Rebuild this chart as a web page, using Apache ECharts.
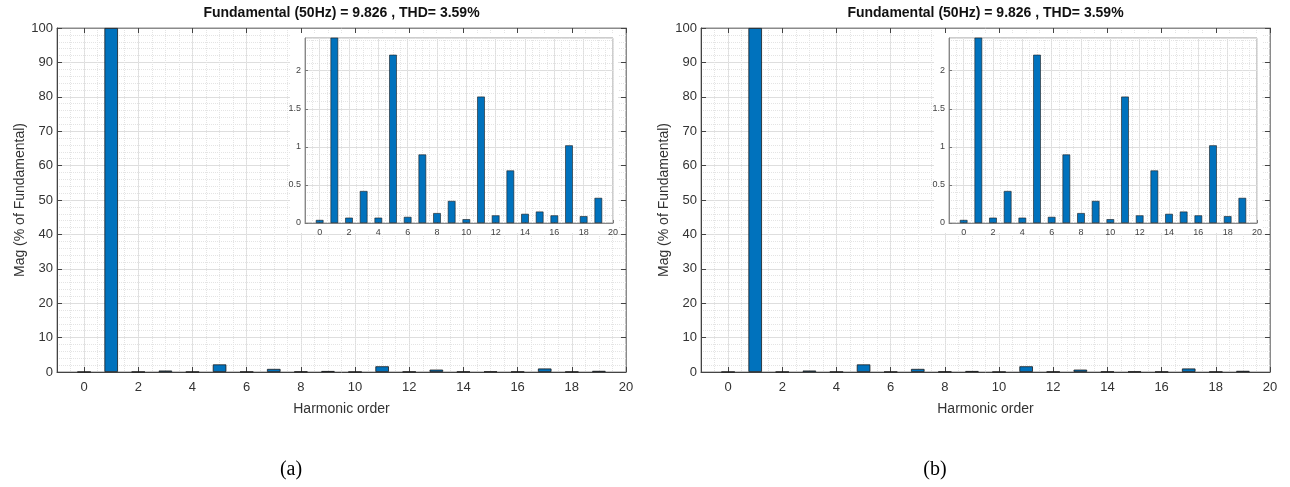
<!DOCTYPE html>
<html>
<head>
<meta charset="utf-8">
<script src="https://cdn.jsdelivr.net/npm/echarts@6/dist/echarts.min.js"></script>
<style>
  html, body { margin: 0; padding: 0; background: #fff; }
  #chart { width: 1290px; height: 487px; }
</style>
</head>
<body>
<div id="chart"></div>
<script>
// x categories (-1 .. 20 so that 0 and 20 sit where MATLAB put them)
var categories = ['-1', '0', '1', '2', '3', '4', '5', '6', '7', '8', '9', '10',
                  '11', '12', '13', '14', '15', '16', '17', '18', '19', '20'];
var harmonicOrder = [0, 1, 2, 3, 4, 5, 6, 7, 8, 9, 10, 11, 12, 13, 14, 15, 16, 17, 18, 19];
// magnitude in % of fundamental, panel (a) and (b)
var magA = [0.04, 100, 0.07, 0.42, 0.07, 2.21, 0.08, 0.90, 0.13, 0.29, 0.05,
            1.66, 0.10, 0.69, 0.12, 0.15, 0.10, 1.02, 0.09, 0.33];
var magB = [0.04, 100, 0.07, 0.42, 0.07, 2.21, 0.08, 0.90, 0.13, 0.29, 0.05,
            1.66, 0.10, 0.69, 0.12, 0.15, 0.10, 1.02, 0.09, 0.33];
var titleText = 'Fundamental (50Hz) = 9.826 , THD= 3.59%';
var panelLabels = ['(a)', '(b)'];

var FONT = 'Liberation Sans, Arial, sans-serif';
var BAR = '#0072BD';
var MAJOR = '#dedede';
var MINOR = '#e4e4e4';

var chart = echarts.init(document.getElementById('chart'));

var grids = [], xAxes = [], yAxes = [], series = [], graphics = [];

function isEven(idx, val) {
  var v = Number(val);
  return v >= 0 && v % 2 === 0;
}

function addPanel(mags, left, label) {
  // ---- main axes ----
  var gi = grids.length;
  grids.push({ left: left, top: 28, width: 569, height: 344, show: true,
    borderColor: '#8a8a8a', borderWidth: 1, backgroundColor: 'transparent' });

  var xMain = xAxes.length;
  xAxes.push({
    gridIndex: gi, type: 'category', data: categories, boundaryGap: false, position: 'bottom',
    name: 'Harmonic order', nameLocation: 'middle', nameGap: 30,
    nameTextStyle: { fontFamily: FONT, fontSize: 14, color: '#333' },
    axisLine: { onZero: false, lineStyle: { color: '#444' } },
    axisTick: { inside: true, length: 5, interval: isEven, lineStyle: { color: '#444' } },
    axisLabel: { interval: isEven, fontFamily: FONT, fontSize: 13, color: '#333', margin: 9 },
    splitLine: { show: true, interval: isEven, lineStyle: { color: MAJOR } }
  });
  xAxes.push({
    gridIndex: gi, type: 'value', min: -1, max: 20, interval: 0.5, position: 'bottom',
    axisLine: { show: false, onZero: false }, axisTick: { show: false }, axisLabel: { show: false },
    splitLine: { show: true, lineStyle: { color: MINOR, type: 'dotted' } }
  });
  xAxes.push({
    gridIndex: gi, type: 'category', data: categories, boundaryGap: false, position: 'top',
    axisLine: { onZero: false, lineStyle: { color: '#8a8a8a' } },
    axisTick: { inside: true, length: 5, interval: isEven, lineStyle: { color: '#444' } },
    axisLabel: { show: false }, splitLine: { show: false }
  });

  var yMain = yAxes.length;
  yAxes.push({
    gridIndex: gi, type: 'value', min: 0, max: 100, interval: 10, position: 'left',
    name: 'Mag (% of Fundamental)', nameLocation: 'middle', nameGap: 28,
    nameTextStyle: { fontFamily: FONT, fontSize: 14, color: '#333' },
    axisLine: { show: true, onZero: false, lineStyle: { color: '#444' } },
    axisTick: { show: true, inside: true, length: 5, lineStyle: { color: '#444' } },
    axisLabel: { fontFamily: FONT, fontSize: 13, color: '#333', margin: 4 },
    splitLine: { show: true, lineStyle: { color: MAJOR } },
    minorTick: { show: false, splitNumber: 5 },
    minorSplitLine: { show: true, lineStyle: { color: MINOR, type: 'dotted' } }
  });
  yAxes.push({
    gridIndex: gi, type: 'value', min: 0, max: 100, interval: 10, position: 'right',
    axisLine: { show: true, onZero: false, lineStyle: { color: '#8a8a8a' } },
    axisTick: { show: true, inside: true, length: 5, lineStyle: { color: '#444' } },
    axisLabel: { show: false }, splitLine: { show: false }
  });

  series.push({
    type: 'bar', xAxisIndex: xMain, yAxisIndex: yMain, barWidth: '50%',
    itemStyle: { color: BAR, borderColor: '#1b1b1b', borderWidth: 0.8 },
    data: harmonicOrder.map(function (h, i) { return [String(h), mags[i]]; }),
    z: 2
  });

  // ---- inset ----
  graphics.push({ type: 'rect', z: 1, shape: { x: left + 233, y: 33, width: 328, height: 200 },
    style: { fill: '#fff' } });

  var ii = grids.length;
  grids.push({ left: left + 248, top: 38, width: 308, height: 185, show: true, z: 3,
    borderColor: '#9a9a9a', borderWidth: 1, backgroundColor: '#fff' });

  var xIn = xAxes.length;
  xAxes.push({
    gridIndex: ii, type: 'category', data: categories, boundaryGap: false, position: 'bottom', z: 3,
    axisLine: { onZero: false, lineStyle: { color: '#888' } },
    axisTick: { inside: true, length: 3, interval: isEven, lineStyle: { color: '#777' } },
    axisLabel: { interval: isEven, fontFamily: FONT, fontSize: 9, color: '#444', margin: 5 },
    splitLine: { show: true, interval: isEven, lineStyle: { color: MAJOR } }
  });
  xAxes.push({
    gridIndex: ii, type: 'value', min: -1, max: 20, interval: 0.5, position: 'bottom', z: 3,
    axisLine: { show: false, onZero: false }, axisTick: { show: false }, axisLabel: { show: false },
    splitLine: { show: true, lineStyle: { color: MINOR, type: 'dotted' } }
  });
  var yIn = yAxes.length;
  yAxes.push({
    gridIndex: ii, type: 'value', min: 0, max: 2.43, interval: 0.5, position: 'left', z: 3,
    axisLine: { show: true, onZero: false, lineStyle: { color: '#888' } },
    axisTick: { show: true, inside: true, length: 3, lineStyle: { color: '#777' } },
    axisLabel: { fontFamily: FONT, fontSize: 9, color: '#444', margin: 4, showMaxLabel: false,
      formatter: function (v) { return (Math.round(v * 2) === v * 2) ? String(v) : ''; } },
    splitLine: { show: true, lineStyle: { color: MAJOR } },
    minorTick: { show: false, splitNumber: 5 },
    minorSplitLine: { show: true, lineStyle: { color: MINOR, type: 'dotted' } }
  });

  series.push({
    type: 'bar', xAxisIndex: xIn, yAxisIndex: yIn, barWidth: '52%', clip: true,
    itemStyle: { color: BAR, borderColor: '#1b1b1b', borderWidth: 0.6 },
    data: harmonicOrder.map(function (h, i) { return [String(h), mags[i]]; }),
    z: 4
  });

  // title and panel label
  graphics.push({ type: 'text', z: 5, x: left + 284.5, y: 13,
    style: { text: titleText, font: 'bold 14px ' + FONT, fill: '#111', align: 'center', verticalAlign: 'middle' } });
  graphics.push({ type: 'text', z: 5, x: left + 234, y: 470,
    style: { text: label, font: '20px Liberation Serif, serif', fill: '#000', align: 'center', verticalAlign: 'middle' } });
}

addPanel(magA, 57, panelLabels[0]);
addPanel(magB, 701, panelLabels[1]);

chart.setOption({
  animation: false,
  backgroundColor: '#fff',
  grid: grids,
  xAxis: xAxes,
  yAxis: yAxes,
  series: series,
  graphic: graphics
});

window.addEventListener('resize', function () {
  chart.resize();
});
</script>
</body>
</html>
